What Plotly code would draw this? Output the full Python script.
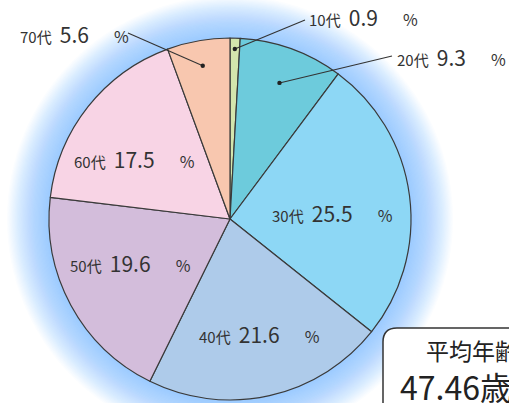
import math
import plotly.graph_objects as go

W, H = 509, 403

age_groups = ["10代", "20代", "30代", "40代", "50代", "60代", "70代"]
shares = [0.9, 9.3, 25.5, 21.6, 19.6, 17.5, 5.6]
colors = ["#d3e5ad", "#6dcbdc", "#8dd7f5", "#aecbea", "#d3bddb", "#f8d4e5", "#f8c7af"]
avg_title = "平均年齢"
avg_value = "47.46歳"

CX, CY, R = 230, 219, 181  # pie centre/radius in px (layout)

def px(x):
    return x / W

def py(y):
    return 1 - y / H

fig = go.Figure()
fig.add_trace(go.Pie(
    labels=age_groups, values=shares, sort=False, direction="clockwise",
    rotation=0, textinfo="none", hoverinfo="label+percent",
    marker=dict(colors=colors, line=dict(color="#3a3a3a", width=1.2)),
    domain=dict(x=[px(CX - R), px(CX + R)], y=[py(CY + R), py(CY - R)]),
    showlegend=False,
))

shapes = []
# soft glow behind pie
n = 34
ext = 42
for i in range(n):
    r = R + ext - i * (ext / n)
    shapes.append(dict(type="circle", xref="paper", yref="paper",
                       x0=px(CX - r), x1=px(CX + r), y0=py(CY + r), y1=py(CY - r),
                       fillcolor="rgba(105,198,240,0.028)", line=dict(width=0), layer="below"))

# label placement (layout): (text left x, text centre y, dot radius frac, line end)
label_layout = {
    "10代": (307, 17, 0.94, (305, 20)),
    "20代": (395, 57, 0.80, (392, 56)),
    "70代": (18, 34, 0.86, (128, 33)),
    "30代": (270, 213, None, None),
    "40代": (197, 334, None, None),
    "50代": (68, 263, None, None),
    "60代": (72, 159, None, None),
}

annotations = []
cum = 0.0
total = sum(shares)
for name, v in zip(age_groups, shares):
    mid = (cum + v / 2) / total * 2 * math.pi
    cum += v
    tx, ty, frac, lend = label_layout[name]
    gap = "\u00a0" * 7
    text = (f"<span style='font-size:15px'>{name}</span>\u00a0\u00a0\u00a0"
            f"<span style='font-size:21px'>{v:.1f}</span>"
            f"<span style='font-size:16px'>{gap}%</span>")
    annotations.append(dict(x=px(tx), y=py(ty), xref="paper", yref="paper",
                            xanchor="left", yanchor="middle", showarrow=False,
                            text=text, font=dict(color="#333333",
                                                 family="Noto Sans CJK JP")))
    if frac is not None:
        dx = CX + frac * R * math.sin(mid)
        dy = CY - frac * R * math.cos(mid)
        shapes.append(dict(type="line", xref="paper", yref="paper",
                           x0=px(dx), y0=py(dy), x1=px(lend[0]), y1=py(lend[1]),
                           line=dict(color="#333333", width=1.1)))
        rr = 2.2
        shapes.append(dict(type="circle", xref="paper", yref="paper",
                           x0=px(dx - rr), x1=px(dx + rr), y0=py(dy + rr), y1=py(dy - rr),
                           fillcolor="#222222", line=dict(width=0)))

# average-age box (rounded rectangle running off the right/bottom edge)
bx0, by0, rc = 383, 328, 14
bx1, by1 = 530, 420
path = (f"M {px(bx0)},{py(by1)} L {px(bx0)},{py(by0 + rc)} "
        f"Q {px(bx0)},{py(by0)} {px(bx0 + rc)},{py(by0)} "
        f"L {px(bx1)},{py(by0)} L {px(bx1)},{py(by1)} Z")
shapes.append(dict(type="path", xref="paper", yref="paper", path=path,
                   fillcolor="white", line=dict(color="#333333", width=1.5)))

annotations.append(dict(x=px(424), y=py(350), xref="paper", yref="paper",
                        xanchor="left", yanchor="middle", showarrow=False,
                        text=avg_title, font=dict(size=23, color="#222222",
                                                  family="Noto Sans CJK JP")))
annotations.append(dict(x=px(398), y=py(386), xref="paper", yref="paper",
                        xanchor="left", yanchor="middle", showarrow=False,
                        text=avg_value, font=dict(size=32, color="#222222",
                                                  family="Noto Sans CJK JP")))

fig.update_layout(width=W, height=H, margin=dict(l=0, r=0, t=0, b=0),
                  paper_bgcolor="white", plot_bgcolor="white",
                  shapes=shapes, annotations=annotations)

fig.write_html("out.html")
